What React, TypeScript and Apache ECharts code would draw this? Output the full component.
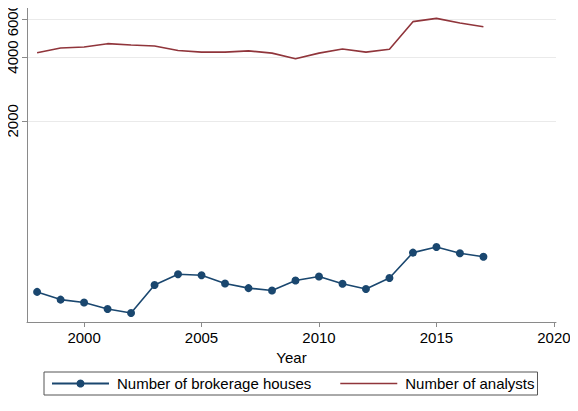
import React, { useEffect, useRef } from "react";
import * as echarts from "echarts";

const years = [1998, 1999, 2000, 2001, 2002, 2003, 2004, 2005, 2006, 2007, 2008, 2009, 2010, 2011, 2012, 2013, 2014, 2015, 2016, 2017];
const brokerageHouses = [312, 287, 278, 259, 248, 336, 378, 374, 342, 325, 317, 353, 369, 341, 322, 363, 478, 508, 475, 457];
const analysts = [4186, 4413, 4460, 4624, 4556, 4508, 4294, 4217, 4217, 4276, 4173, 3928, 4173, 4367, 4217, 4354, 5873, 6088, 5793, 5553];
const yTicks = [2000, 4000, 6000];
const xTicks = [2000, 2005, 2010, 2015, 2020];

const FONT = "Liberation Sans, Arial, sans-serif";
const NAVY = "#1a476f";
const MAROON = "#90353b";

// plain horizontal line used as the legend key of the line-only series
const LINE_KEY = "path://M0,0L0.05,0L0.05,0.05L0,0.05ZM0,4.2L57,4.2L57,5.8L0,5.8ZM0,9.95L0.05,9.95L0.05,10L0,10Z";

export default function App() {
  const ref = useRef<HTMLDivElement>(null);

  useEffect(() => {
    if (!ref.current) return;
    const chart = echarts.init(ref.current, null, { renderer: "svg" });
    chart.setOption({
      animation: false,
      backgroundColor: "#ffffff",
      textStyle: { fontFamily: FONT },
      grid: { left: 27, right: 22, top: 0, bottom: 89, containLabel: false },
      xAxis: {
        type: "value",
        min: 1997.57,
        max: 2020.09,
        name: "Year",
        nameLocation: "middle",
        nameGap: 22,
        nameTextStyle: { color: "#000", fontSize: 15, fontFamily: FONT },
        axisLine: { show: true, lineStyle: { color: "#8a8a8a", width: 1 } },
        axisTick: { show: true, length: 5, customValues: xTicks, lineStyle: { color: "#8a8a8a" } },
        axisLabel: {
          customValues: xTicks,
          color: "#000",
          fontSize: 15,
          margin: 8,
          fontFamily: FONT,
          formatter: (v: number) => String(Math.round(v)),
        },
        splitLine: { show: false },
      },
      yAxis: {
        type: "log",
        logBase: 10,
        min: 225,
        max: 6790,
        axisLine: { show: true, lineStyle: { color: "#8a8a8a", width: 1 } },
        axisTick: { show: true, length: 5, customValues: yTicks, lineStyle: { color: "#8a8a8a" } },
        axisLabel: {
          customValues: yTicks,
          rotate: 90,
          align: "center",
          verticalAlign: "bottom",
          color: "#000",
          fontSize: 15,
          margin: 7,
          fontFamily: FONT,
          formatter: (v: number) => String(Math.round(v)),
        },
        splitLine: { show: true, lineStyle: { color: "#eaeaea", width: 1 } },
      },
      legend: {
        left: 44,
        top: 372,
        orient: "horizontal",
        borderColor: "#555",
        borderWidth: 1,
        padding: [4, 3, 4, 7],
        itemWidth: 57,
        itemHeight: 10,
        itemGap: 29,
        textStyle: { color: "#000", fontSize: 15, fontFamily: FONT, padding: [0, 0, 0, 3] },
        data: [
          { name: "Number of brokerage houses" },
          { name: "Number of analysts", icon: LINE_KEY, itemStyle: { color: MAROON, borderWidth: 0 } },
        ],
      },
      series: [
        {
          name: "Number of brokerage houses",
          type: "line",
          data: years.map((y, i) => [y, brokerageHouses[i]]),
          symbol: "circle",
          symbolSize: 8,
          lineStyle: { color: NAVY, width: 1.6 },
          itemStyle: { color: NAVY },
        },
        {
          name: "Number of analysts",
          type: "line",
          data: years.map((y, i) => [y, analysts[i]]),
          symbol: "none",
          lineStyle: { color: MAROON, width: 1.6 },
          itemStyle: { color: MAROON },
        },
      ],
    });
    return () => chart.dispose();
  }, []);

  return <div ref={ref} style={{ width: 578, height: 411, margin: -8 }} />;
}
